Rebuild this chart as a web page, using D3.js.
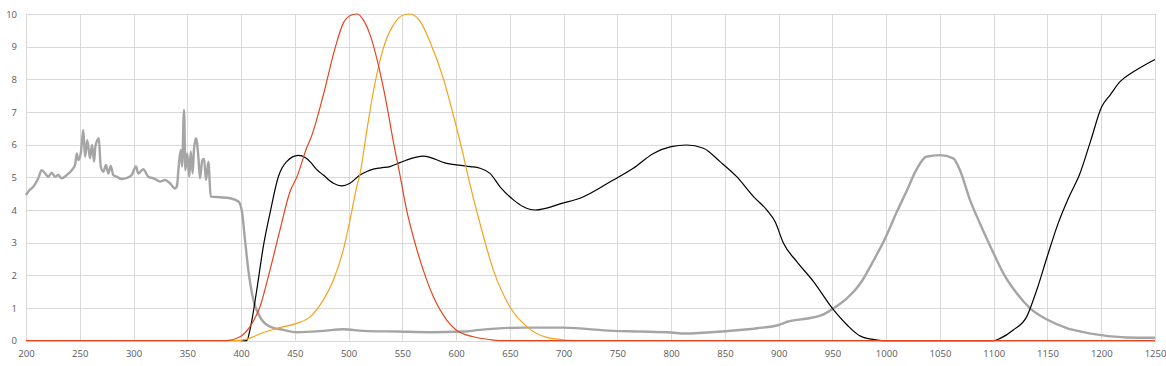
<!DOCTYPE html>
<html><head><meta charset="utf-8">
<script src="https://cdn.jsdelivr.net/npm/d3@7"></script>
<style>html,body{margin:0;padding:0;background:#fff;}svg{display:block;}</style>
</head><body>
<svg id="chart" width="1166" height="366"></svg>
<script>
// ---- data ----
const xTicks = [200,250,300,350,400,450,500,550,600,650,700,750,800,850,900,950,1000,1050,1100,1150,1200,1250];
const yTicks = [0,1,2,3,4,5,6,7,8,9,10];

const grayX = [200,203,206.8,211.4,214.6,217.7,220.7,223.9,227,230,233.2,237.9,242.5,245.6,247.2,248.7,250.9,253.3,254.9,257,259.5,261.4,263.3,264.5,266.4,267.7,269.5,271.9,274.4,276.6,278.8,281.2,284.4,289,293.7,298.3,302.3,304.4,309.1,313.7,318.4,321.5,324.6,329.3,333.9,338.6,340.5,341.7,343.9,345.1,347,348.2,350,351.9,353.2,355,356.2,358.1,360.3,361.8,364,365.6,367.4,369.6,371.8,380.5,389.7,397.5,400.6,403.7,406.8,411.4,417.6,426.9,439.3,451.8,476.5,495.1,513.7,544.7,575.7,606.7,622,662.6,700,746,771,800,813,850,880,900,908,926.7,940.6,950,963.7,976.1,988.5,1000,1009.3,1018.6,1027.9,1037.2,1050,1062.4,1068.6,1077.9,1087.2,1100,1109,1121.4,1133.9,1150,1168.6,1181,1200,1223.7,1250];
const grayY = [4.46,4.6,4.71,4.97,5.22,5.12,5.02,5.14,5.02,5.07,4.97,5.07,5.22,5.38,5.73,5.53,5.73,6.45,5.63,6.14,5.58,5.99,5.48,5.94,6.14,6.2,5.33,5.17,5.38,5.12,5.35,5.07,5.02,4.95,4.98,5.07,5.33,5.12,5.25,5.02,4.97,4.92,4.87,4.92,4.82,4.66,4.75,5.22,5.84,5.33,7.06,5.22,5.73,5.02,5.79,5.12,5.84,6.2,5.63,4.97,5.53,5.56,4.92,5.48,4.41,4.39,4.36,4.26,4.0,3.08,2.16,1.25,0.73,0.43,0.33,0.26,0.3,0.35,0.3,0.28,0.26,0.28,0.33,0.4,0.4,0.3,0.28,0.25,0.22,0.29,0.38,0.48,0.58,0.68,0.79,0.97,1.3,1.76,2.47,3.2,3.9,4.55,5.22,5.63,5.68,5.58,5.22,4.31,3.59,2.67,2.06,1.45,0.99,0.64,0.38,0.28,0.17,0.1,0.09];

const blackX = [400,405.3,408.3,414.6,420.7,426.9,434.7,442.4,453.3,460,465,470,476.5,485.9,493.6,501.3,510.6,517,523,530,538.5,547.8,554,569.5,591.3,613,622.2,631.5,640.9,653.3,662.6,673.5,700,715.2,746.2,764.8,783.5,800,814.4,830,845.5,861,876.6,889,896.7,904.5,916.9,932.4,950,963.7,976.1,991.6,1000,1100,1106,1118.2,1130.6,1140,1150,1160,1170,1180,1190,1200.4,1208.2,1217.5,1229.9,1250];
const blackY = [0,0,0.33,1.55,2.88,3.9,5.02,5.48,5.67,5.6,5.45,5.25,5.07,4.82,4.74,4.82,5.07,5.18,5.25,5.29,5.33,5.45,5.53,5.65,5.43,5.33,5.28,5.12,4.71,4.31,4.1,4.0,4.22,4.36,4.92,5.28,5.73,5.94,5.99,5.89,5.48,5.02,4.41,4.0,3.64,2.98,2.42,1.81,0.99,0.48,0.14,0.02,0,0,0.07,0.33,0.73,1.55,2.6,3.6,4.4,5.1,6.1,7.16,7.52,7.93,8.23,8.61];

const orangeX = [385,396,408.3,420.7,436.2,451.8,464.2,476.5,485.9,495.1,501.3,507.5,510.6,516.8,523,532.3,541.6,550.9,557.1,566.4,575.7,588.1,597.4,606.7,609.8,622.2,634.7,650,665.7,684.3,702.9,712];
const orangeY = [0,0,0.08,0.25,0.4,0.53,0.73,1.25,1.86,2.78,3.69,4.7,5.1,6.4,7.62,8.95,9.66,9.97,10,9.78,9.15,8.03,6.91,5.68,5.22,3.59,2.16,1.04,0.43,0.1,0.02,0];

const redX = [200,385,399,408.3,417.6,426.9,436.2,445.5,451.8,461,466,476.5,487.4,495.1,502.9,508.2,513.7,520,527.7,535.5,541.6,547.8,554,560.2,569.5,578.8,591.3,600,616,634.7,645,1250];
const redY = [0,0,0.12,0.43,1.04,2.16,3.39,4.56,5.0,5.9,6.3,7.52,8.95,9.72,9.97,10,9.82,9.36,8.44,7.22,6.1,5.07,4.0,3.18,2.16,1.35,0.63,0.33,0.12,0.02,0,0];

// ---- chart ----
const svg = d3.select("#chart");
const mLeft = 26, mRight = 1155, mTop = 14, mBottom = 340.7;
const x = d3.scaleLinear().domain([200,1250]).range([mLeft,mRight]);
const y = d3.scaleLinear().domain([0,10]).range([mBottom,mTop]);

const grid = svg.append("g");
grid.selectAll("line.v").data(xTicks).join("line").attr("class","v")
  .attr("x1", d=>Math.round(x(d))+0.5).attr("x2", d=>Math.round(x(d))+0.5)
  .attr("y1", mTop).attr("y2", mBottom)
  .attr("stroke", "#d9d9d9").attr("stroke-width", 1);
grid.selectAll("line.h").data(yTicks).join("line").attr("class","h")
  .attr("y1", d=>Math.round(y(d))+0.5).attr("y2", d=>Math.round(y(d))+0.5)
  .attr("x1", mLeft).attr("x2", mRight)
  .attr("stroke", "#d9d9d9").attr("stroke-width", 1);

const fontFam = "'Open Sans', 'DejaVu Sans', sans-serif";
const xAxis = d3.axisBottom(x).tickValues(xTicks).tickFormat(d3.format("d")).tickSize(0).tickPadding(10);
const gx = svg.append("g").attr("transform", `translate(0,${mBottom})`).call(xAxis);
gx.select(".domain").remove();
gx.selectAll("text").attr("fill","#595959").style("font-family",fontFam).style("font-size","9.5px");

const yAxis = d3.axisLeft(y).tickValues(yTicks).tickFormat(d3.format("d")).tickSize(0).tickPadding(9);
const gy = svg.append("g").attr("transform", `translate(${mLeft},0)`).call(yAxis);
gy.select(".domain").remove();
gy.selectAll("text").attr("fill","#595959").style("font-family",fontFam).style("font-size","9.5px");

const line = d3.line().x(d=>x(d[0])).y(d=>y(d[1])).curve(d3.curveMonotoneX);
const zip = (a,b)=>a.map((v,i)=>[v,b[i]]);

svg.append("path").datum(zip(grayX,grayY)).attr("d", line)
  .attr("fill","none").attr("stroke","#a5a5a5").attr("stroke-width",2.4).attr("stroke-linejoin","round");
svg.append("path").datum(zip(blackX,blackY)).attr("d", line)
  .attr("fill","none").attr("stroke","#000").attr("stroke-width",1.2);
svg.append("path").datum(zip(orangeX,orangeY)).attr("d", line)
  .attr("fill","none").attr("stroke","#f5a31c").attr("stroke-width",1.2);
svg.append("path").datum(zip(redX,redY)).attr("d", line)
  .attr("fill","none").attr("stroke","#e5441f").attr("stroke-width",1.2);
</script>
</body></html>
